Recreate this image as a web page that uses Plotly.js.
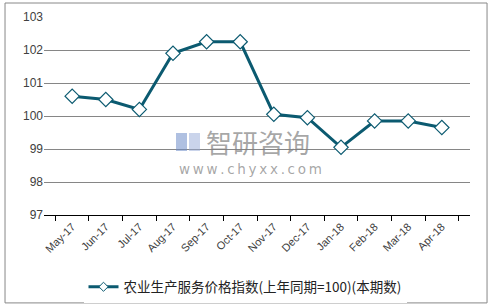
<!DOCTYPE html>
<html><head><meta charset="utf-8">
<script src="https://cdn.plot.ly/plotly-3.0.1.min.js"></script>
<style>html,body{margin:0;padding:0;background:#fff;}</style>
</head><body>
<div id="chart" style="width:492px;height:308px;"></div>
<script>
const categories = ["May-17","Jun-17","Jul-17","Aug-17","Sep-17","Oct-17","Nov-17","Dec-17","Jan-18","Feb-18","Mar-18","Apr-18"];
const values = [100.6, 100.5, 100.2, 101.9, 102.25, 102.25, 100.05, 99.95, 99.05, 99.85, 99.85, 99.65];
const seriesName = "农业生产服务价格指数(上年同期=100)(本期数)";
const yTicks = [97, 98, 99, 100, 101, 102, 103];

const lineColor = "#0b5a70";
const trace = {
  x: categories, y: values, type: "scatter", mode: "lines+markers", name: seriesName, showlegend: false,
  line: {color: lineColor, width: 3},
  marker: {symbol: "diamond", size: 11, color: "#ffffff", line: {color: lineColor, width: 1.2}}
};
const legendTrace = {
  x: [null], y: [null], type: "scatter", mode: "lines+markers", name: seriesName, showlegend: true,
  line: {color: lineColor, width: 3},
  marker: {symbol: "diamond", size: 7, color: "#ffffff", line: {color: lineColor, width: 1}}
};
const wm = "rgba(128,128,128,0.7)";
const layout = {
  width: 492, height: 308,
  margin: {l: 44, r: 22, t: 17, b: 93},
  paper_bgcolor: "#fff", plot_bgcolor: "#fff",
  showlegend: true,
  font: {family: "Liberation Sans, Arial, sans-serif", size: 11, color: "#404040"},
  xaxis: {
    type: "category", tickson: "boundaries", ticks: "outside", ticklen: 5, tickcolor: "#000",
    showline: true, linecolor: "#000", linewidth: 1, showgrid: false, tickangle: -45, automargin: false,
    tickfont: {family: "Liberation Sans, Arial, sans-serif", size: 11, color: "#404040"}
  },
  yaxis: {
    range: [97, 103], tickvals: yTicks, ticktext: yTicks.map(String), automargin: false,
    showgrid: true, gridcolor: "#868686", gridwidth: 1, zeroline: false, showline: false,
    ticks: "", ticklen: 0, tickfont: {family: "Liberation Sans, Arial, sans-serif", size: 12, color: "#404040"}
  },
  legend: {orientation: "h", xref: "container", yref: "container", x: 245/492, xanchor: "center",
    y: (308-287)/308, yanchor: "middle", itemwidth: 30,
    font: {family: "Noto Sans CJK SC, sans-serif", size: 13.5, color: "#222"}},
  shapes: [
    {type: "rect", xref: "paper", yref: "paper", x0: -0.0915, x1: 1.04, y0: -0.444, y1: 1.0707,
     line: {color: "#888", width: 1}, fillcolor: "rgba(0,0,0,0)", layer: "below"},
    {type: "rect", xref: "paper", yref: "paper", x0: (176-44)/426, x1: (187-44)/426, y0: (215-151)/198, y1: (215-133)/198,
     line: {width: 0}, fillcolor: "rgba(110,140,200,0.55)", layer: "above"},
    {type: "rect", xref: "paper", yref: "paper", x0: (189-44)/426, x1: (200-44)/426, y0: (215-151)/198, y1: (215-133)/198,
     line: {width: 0}, fillcolor: "rgba(150,170,215,0.5)", layer: "above"}
  ],
  annotations: [
    {xref: "paper", yref: "paper", x: (204-44)/426, y: (215-141)/198, xanchor: "left", yanchor: "middle", showarrow: false,
     text: "智研咨询", font: {family: "Noto Sans CJK SC, sans-serif", size: 26, color: wm}},
    {xref: "paper", yref: "paper", x: (177-44)/426, y: (215-169)/198, xanchor: "left", yanchor: "middle", showarrow: false,
     text: "w\u2009w\u2009w\u2009.\u2009c\u2009h\u2009y\u2009x\u2009x\u2009.\u2009c\u2009o\u2009m", font: {family: "DejaVu Sans, sans-serif", size: 13.5, color: wm}}
  ]
};
Plotly.newPlot("chart", [trace, legendTrace], layout, {displayModeBar: false, staticPlot: true});
</script>
</body></html>
